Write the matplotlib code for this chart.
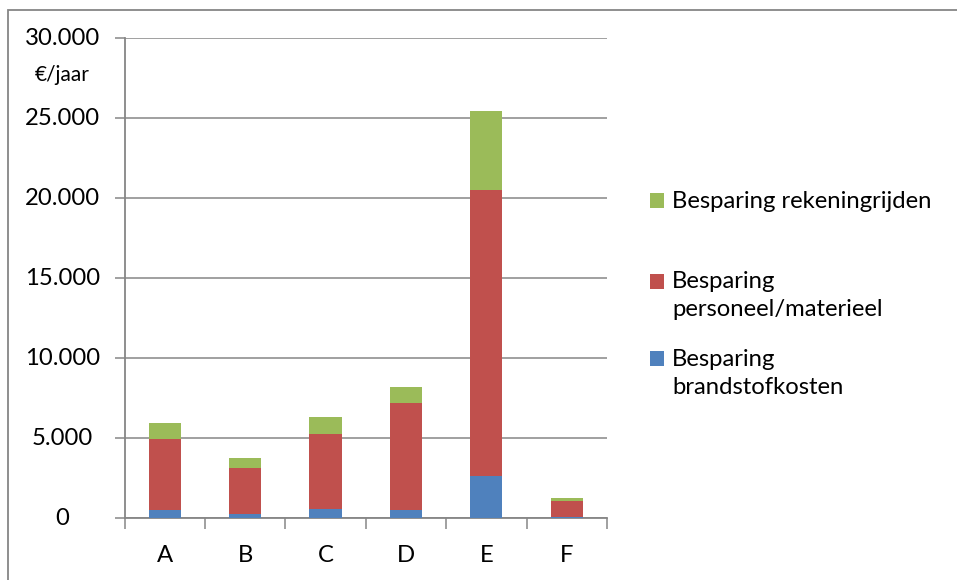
import numpy as np
import matplotlib.pyplot as plt
from matplotlib.patches import Rectangle
from matplotlib.ticker import FuncFormatter, MultipleLocator, FixedLocator

# savings per scenario, euro per year
categories = ["A", "B", "C", "D", "E", "F"]
brandstof = [520, 290, 580, 500, 2660, 60]
personeel = [4420, 2850, 4710, 6690, 17880, 1040]
rekeningrijden = [1000, 610, 1040, 1000, 4910, 170]

series_labels = ["Besparing\nbrandstofkosten",
                 "Besparing\npersoneel/materieel",
                 "Besparing rekeningrijden"]
colors = ["#4F81BD", "#C0504D", "#9BBB59"]

plt.rcParams['font.family'] = ['Lato', 'DejaVu Sans']
FS = 17.2

W, H = 957, 580
fig = plt.figure(figsize=(W / 100, H / 100), dpi=100)
ax = fig.add_axes([124.5 / W, 1 - 518.3 / H, (607 - 124.5) / W, (518.3 - 38.3) / H])

x = np.arange(len(categories))
bottom = np.zeros(len(categories))
bars = []
for vals, col in zip([brandstof, personeel, rekeningrijden], colors):
    b = ax.bar(x, vals, width=0.4, bottom=bottom, color=col, linewidth=0, zorder=3)
    bars.append(b)
    bottom += np.array(vals)

grid_col = "#868686"
ax.set_xlim(-0.5, len(categories) - 0.5)
ax.set_ylim(0, 30000)
ax.yaxis.set_major_locator(MultipleLocator(5000))
ax.grid(axis="y", color=grid_col, linewidth=1.1, zorder=0)

ax.set_xticks(x)
ax.set_xticklabels(categories)
ax.xaxis.set_minor_locator(FixedLocator(np.arange(-0.5, len(categories), 1.0)))
ax.tick_params(axis="x", which="major", length=0, pad=19, labelsize=FS)
ax.tick_params(axis="x", which="minor", length=8, width=1.1, color=grid_col)
ax.tick_params(axis="y", length=7, width=1.1, color=grid_col, labelleft=False)

for s in ["top", "right"]:
    ax.spines[s].set_visible(False)
for s in ["left", "bottom"]:
    ax.spines[s].set_color(grid_col)
    ax.spines[s].set_linewidth(1.3)

# y tick labels centred on a fixed column, with the unit under the top one
fmt = FuncFormatter(lambda v, p: f"{int(v):,}".replace(",", "."))
for v in ax.get_yticks():
    if 0 <= v <= 30000:
        fig.text(62.5 / W, 1 - (518.3 - v * 480 / 30000) / H, fmt(v),
                 ha="center", va="center", fontsize=FS)
fig.text(62.5 / W, 1 - 75 / H, "€/jaar", ha="center", va="center", fontsize=15)

# legend drawn by hand: top entry first, stack order reversed
legend_rows = [(bars[2], series_labels[2], 201), (bars[1], series_labels[1], 282),
               (bars[0], series_labels[0], 359)]
for b, text, yc in legend_rows:
    fc = b.patches[0].get_facecolor()
    fig.add_artist(Rectangle((650 / W, 1 - (yc + 7) / H), 14 / W, 15 / H,
                             transform=fig.transFigure, facecolor=fc, edgecolor="none"))
    for i, line in enumerate(text.split("\n")):
        fig.text(672 / W, 1 - (yc + i * 28) / H, line, ha="left", va="center", fontsize=FS)

# outer chart frame
fig.add_artist(Rectangle((8 / W, -0.05), 1.1, 1.05 - 9.5 / H, transform=fig.transFigure,
                         fill=False, edgecolor=grid_col, linewidth=1.3))

fig.savefig("out.png", dpi=100)
